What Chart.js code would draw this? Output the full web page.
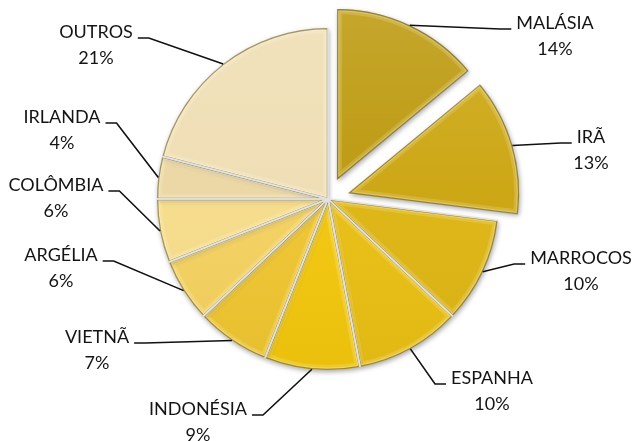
<!DOCTYPE html>
<html>
<head>
<meta charset="utf-8">
<script src="https://cdn.jsdelivr.net/npm/chart.js@4.4.0/dist/chart.umd.min.js"></script>
<style>
  html, body { margin: 0; padding: 0; background: #fff; }
  #wrap { width: 636px; height: 441px; position: relative; }
</style>
</head>
<body>
<div id="wrap"><canvas id="chart"></canvas></div>
<script>
// ---------------------------------------------------------------------------
// Data
// ---------------------------------------------------------------------------
const countries = ['MALÁSIA', 'IRÃ', 'MARROCOS', 'ESPANHA', 'INDONÉSIA', 'VIETNÃ', 'ARGÉLIA', 'COLÔMBIA', 'IRLANDA', 'OUTROS'];
const shares = [14, 13, 10, 10, 9, 7, 6, 6, 4, 21];

// ---------------------------------------------------------------------------
// Style / layout
// ---------------------------------------------------------------------------
const sliceColors = ['#BC980C', '#CBA40E', '#DDB412', '#E8BE12', '#F2C60C', '#EEC430', '#F3D05E', '#F6DC8A', '#EBD6A2', '#EFDDB3'];
const explodedSlices = [true, true, false, false, false, false, false, false, false, false];
const EXPLODE = 84; // Chart.js moves an arc by offset / 4
// centre of the name line of each label
const labelX = [555, 591, 581, 492, 198, 97, 61, 56, 62, 96];
const labelY = [23, 137, 258, 378, 409, 337, 255, 185, 117, 32];
const FONT = '18px Lato, "Open Sans", sans-serif';

function arcGeometry(el) {
  const mid = (el.startAngle + el.endAngle) / 2;
  const off = (el.options.offset || 0) / 4;
  const fix = 1 - Math.sin(Math.min(Math.PI, el.endAngle - el.startAngle));
  return {
    cx: el.x + Math.cos(mid) * off,
    cy: el.y + Math.sin(mid) * off,
    r: el.outerRadius + off * fix,
    mid: mid
  };
}

function slicePath(ctx, el) {
  const g = arcGeometry(el);
  ctx.beginPath();
  ctx.moveTo(g.cx, g.cy);
  ctx.arc(g.cx, g.cy, g.r, el.startAngle, el.endAngle);
  ctx.closePath();
  return g;
}

// keep exploded slices at the same radius as the others
const keepRadius = {
  id: 'keepRadius',
  afterDatasetsUpdate(chart) {
    chart.getDatasetMeta(0).data.forEach((el, i) => {
      if (!explodedSlices[i]) return;
      const off = EXPLODE / 4;
      const fix = 1 - Math.sin(Math.min(Math.PI, el.endAngle - el.startAngle));
      el.outerRadius -= off * fix;
    });
  }
};

// soft shadow under the slices
const sliceShadow = {
  id: 'sliceShadow',
  beforeDatasetsDraw(chart) {
    const ctx = chart.ctx;
    ctx.save();
    ctx.shadowColor = 'rgba(0,0,0,0.35)';
    ctx.shadowBlur = 5;
    ctx.shadowOffsetX = 1;
    ctx.shadowOffsetY = 2;
  },
  afterDatasetsDraw(chart) {
    chart.ctx.restore();
  }
};

// bevel look, separators, labels with leader lines
const bevelAndLabels = {
  id: 'bevelAndLabels',
  afterDraw(chart) {
    const ctx = chart.ctx;
    const arcs = chart.getDatasetMeta(0).data;

    arcs.forEach((el) => {
      ctx.save();
      const g = slicePath(ctx, el);
      ctx.clip();
      // soft light towards the top of each slice
      const lg = ctx.createLinearGradient(0, g.cy - g.r, 0, g.cy + g.r);
      lg.addColorStop(0, 'rgba(255,255,240,0.14)');
      lg.addColorStop(0.5, 'rgba(255,255,240,0.03)');
      lg.addColorStop(1, 'rgba(120,90,0,0.06)');
      ctx.fillStyle = lg;
      ctx.fill();
      slicePath(ctx, el);
      ctx.lineJoin = 'round';
      ctx.strokeStyle = 'rgba(255,255,235,0.16)';
      ctx.lineWidth = 10;
      ctx.stroke();
      ctx.strokeStyle = 'rgba(255,255,240,0.22)';
      ctx.lineWidth = 5;
      ctx.stroke();
      ctx.strokeStyle = 'rgba(80,62,0,0.5)';
      ctx.lineWidth = 2.5;
      ctx.stroke();
      ctx.restore();
    });

    // light gaps between neighbouring slices
    arcs.forEach((el, i) => {
      if (explodedSlices[i]) return;
      const g = arcGeometry(el);
      ctx.save();
      ctx.strokeStyle = '#e2e2e2';
      ctx.lineWidth = 1.6;
      [el.startAngle, el.endAngle].forEach((a) => {
        ctx.beginPath();
        ctx.moveTo(g.cx, g.cy);
        ctx.lineTo(g.cx + Math.cos(a) * g.r, g.cy + Math.sin(a) * g.r);
        ctx.stroke();
      });
      ctx.restore();
    });

    // labels
    ctx.save();
    ctx.font = FONT;
    ctx.fillStyle = '#141414';
    ctx.textAlign = 'center';
    ctx.textBaseline = 'middle';
    arcs.forEach((el, i) => {
      const g = arcGeometry(el);
      const ax = g.cx + Math.cos(g.mid) * g.r;
      const ay = g.cy + Math.sin(g.mid) * g.r;
      const name = countries[i];
      const tx = labelX[i];
      const ty = labelY[i];
      ctx.fillText(name, tx, ty);
      ctx.fillText(shares[i] + '%', tx, ty + 26);

      const w = ctx.measureText(name).width;
      const right = tx > el.x;
      const lineY = ty + 6;
      const lineEnd = right ? tx - w / 2 - 5 : tx + w / 2 + 5;
      const dir = right ? -1 : 1;
      let elbowX = lineEnd + dir * 11;
      if ((ax - elbowX) * dir < 0) elbowX = ax;
      ctx.beginPath();
      ctx.moveTo(ax, ay);
      ctx.lineTo(elbowX, lineY);
      ctx.lineTo(lineEnd, lineY);
      ctx.strokeStyle = '#111';
      ctx.lineWidth = 1.6;
      ctx.stroke();
    });
    ctx.restore();
  }
};

const ctx = document.getElementById('chart').getContext('2d');
new Chart(ctx, {
  type: 'pie',
  data: {
    labels: countries,
    datasets: [{
      data: shares,
      backgroundColor: sliceColors,
      borderWidth: 0,
      offset: explodedSlices.map(e => (e ? EXPLODE : 0))
    }]
  },
  options: {
    responsive: true,
    maintainAspectRatio: false,
    animation: false,
    radius: 171,
    layout: { padding: { left: 20, right: 0, top: 0, bottom: 43 } },
    plugins: {
      legend: { display: false },
      tooltip: { enabled: false }
    }
  },
  plugins: [keepRadius, sliceShadow, bevelAndLabels]
});
</script>
</body>
</html>
